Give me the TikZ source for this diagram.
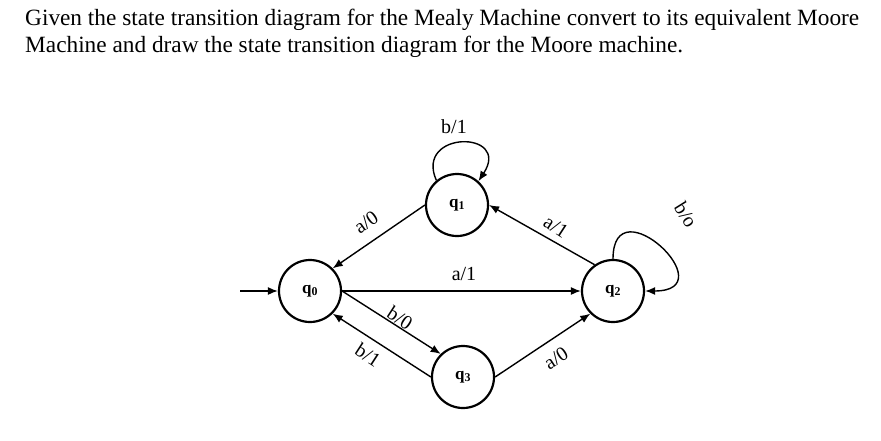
\documentclass[tikz,border=0pt]{standalone}
\usepackage{fontspec}
\setmainfont{Liberation Serif}
\usetikzlibrary{arrows.meta}
\begin{document}
\begin{tikzpicture}[x=1pt,y=-1pt,
  state/.style={circle,draw,line width=2.2pt,minimum size=62pt,inner sep=0pt,font=\fontsize{17}{17}\selectfont\bfseries},
  edge/.style={line width=1.4pt,-{Latex[length=10pt,width=8pt]}},
  lbl/.style={font=\fontsize{20}{20}\selectfont,inner sep=1pt},
  titletext/.style={anchor=base west,font=\fontsize{23.3}{27}\selectfont,inner sep=0pt}]
\useasboundingbox (0,0) rectangle (881,440);
\node[titletext] (title1) at (25,25) {Given the state transition diagram for the Mealy Machine convert to its equivalent Moore};
\node[titletext] (title2) at (25,52) {Machine and draw the state transition diagram for the Moore machine.};
\node[state] (q0) at (310,291) {q$_{\mathbf 0}$};
\node[state] (q1) at (457,205) {q$_{\mathbf 1}$};
\node[state] (q2) at (613,291) {q$_{\mathbf 2}$};
\node[state] (q3) at (463,377) {q$_{\mathbf 3}$};
\coordinate (start) at (240,291);
\draw[edge] (start) -- (q0);
\draw[edge] (q1.west) -- (q0.45);
\draw[edge] (q2.125) -- (q1.east);
\draw[edge] (q0.east) -- (q2.west);
\draw[edge] (q0.east) -- (q3.134);
\draw[edge] (q3.west) -- (q0.-45);
\draw[edge] (q3.east) -- (q2.225);
\draw[edge] (q1.130) .. controls (414,130) and (512,130) .. (q1.48);
\draw[edge] (q2.90) .. controls (613,183) and (727,291) .. (q2.0);
\node[lbl] (l1) at (454,127) {b/1};
\node[lbl,rotate=-58] (l2) at (686,215) {b/o};
\node[lbl,rotate=35] (l3) at (366,222) {a/0};
\node[lbl,rotate=-33] (l4) at (556,227) {a/1};
\node[lbl] (l5) at (464,274) {a/1};
\node[lbl,rotate=-33] (l6) at (400,318) {b/0};
\node[lbl,rotate=-33] (l7) at (368,355) {b/1};
\node[lbl,rotate=33] (l8) at (556,358) {a/0};
\end{tikzpicture}
\end{document}
